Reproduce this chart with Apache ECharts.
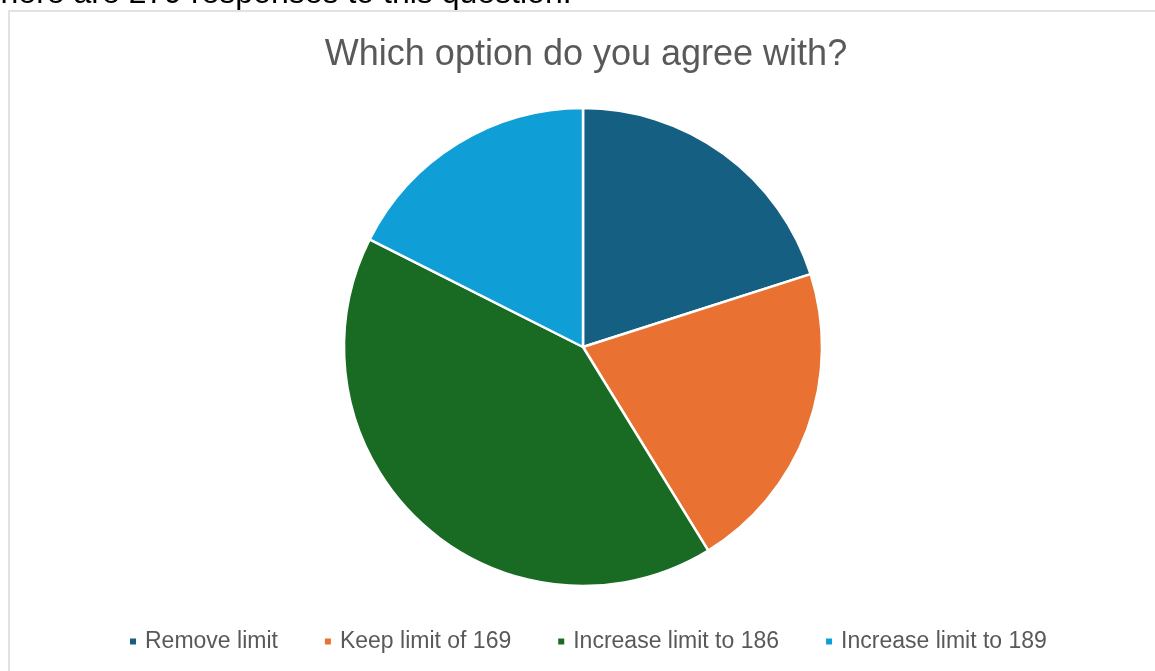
<!DOCTYPE html>
<html>
<head>
<meta charset="utf-8">
<script src="https://cdn.jsdelivr.net/npm/echarts@6/dist/echarts.min.js"></script>
<style>
  html, body { margin: 0; padding: 0; background: #ffffff; }
  #chart { width: 1155px; height: 671px; }
</style>
</head>
<body>
<div id="chart"></div>
<script>
// Survey answers (279 responses in total)
const categories = ['Remove limit', 'Keep limit of 169', 'Increase limit to 186', 'Increase limit to 189'];
const responses = [56, 59, 115, 49];
const sliceColors = ['#156082', '#E97132', '#196B24', '#0F9ED5'];
const chartTitle = 'Which option do you agree with?';
const headerNote = 'There are 279 responses to this question.';

const chart = echarts.init(document.getElementById('chart'), null, { renderer: 'canvas' });

chart.setOption({
  animation: false,
  backgroundColor: '#ffffff',
  color: sliceColors,
  title: {
    text: chartTitle,
    left: 581,
    textAlign: 'center',
    top: 32,
    textStyle: {
      fontFamily: 'Liberation Sans, Arial, sans-serif',
      fontSize: 36,
      fontWeight: 'normal',
      color: '#595959'
    }
  },
  legend: {
    bottom: 13,
    left: 123,
    icon: 'rect',
    itemWidth: 8,
    itemHeight: 8,
    itemGap: 45,
    textStyle: {
      fontFamily: 'Liberation Sans, Arial, sans-serif',
      fontSize: 23,
      color: '#595959',
      padding: [0, 0, 0, 3]
    },
    data: categories
  },
  graphic: [
    {
      type: 'rect',
      left: 6.5,
      top: 8.5,
      shape: { width: 1200, height: 700 },
      style: { fill: 'none', stroke: '#d9d9d9', lineWidth: 1.5 },
      silent: true
    },
    {
      type: 'text',
      left: -19,
      top: -22,
      style: {
        text: headerNote,
        font: '32px Liberation Sans, Arial, sans-serif',
        fill: '#000000'
      },
      silent: true
    }
  ],
  series: [
    {
      type: 'pie',
      center: [583, 347],
      radius: [0, 239],
      startAngle: 90,
      clockwise: true,
      label: { show: false },
      labelLine: { show: false },
      itemStyle: { borderColor: '#ffffff', borderWidth: 2.5 },
      emphasis: { disabled: true },
      data: categories.map((name, i) => ({ name: name, value: responses[i] }))
    }
  ]
});
</script>
</body>
</html>
